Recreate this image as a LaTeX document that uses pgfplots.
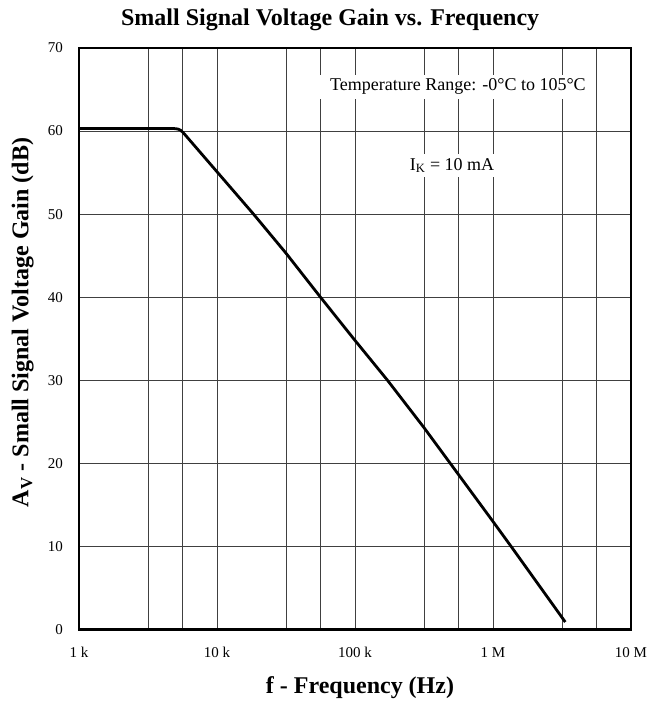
\documentclass[border=0pt]{standalone}
\usepackage{fontspec}
\setmainfont{Liberation Serif}
\usepackage{pgfplots}
\pgfplotsset{compat=1.18}
\begin{document}
\begin{tikzpicture}
\begin{axis}[
    xmode=log,
    scale only axis,
    width=552pt,
    height=581.5pt,
    xmin=1000, xmax=10000000,
    ymin=0, ymax=70,
    xtick={1000,10000,100000,1000000,10000000},
    xticklabels={1 k,10 k,100 k,1 M,10 M},
    minor xtick={3162.3,5623.4,31623,56234,316228,562341,3162278,5623413},
    ytick={0,10,...,70},
    xmajorgrids, xminorgrids, ymajorgrids,
    grid style={black!75, line width=0.8pt},
    minor grid style={black!75, line width=0.8pt},
    major tick length=0pt,
    minor tick length=0pt,
    axis line style={line width=2.7pt},
    /pgf/number format/assume math mode=true,
    tick label style={font=\fontsize{15}{15}\selectfont},
    xticklabel style={anchor=center, inner sep=0pt, yshift=-23pt},
    yticklabel style={anchor=east, inner sep=0pt, xshift=-16pt},
    title={Small Signal Voltage Gain vs. Frequency},
    title style={font=\bfseries\fontsize{24}{24}\selectfont,
        at={(axis description cs:0.455,1.028)}, anchor=base},
    xlabel={f - Frequency (Hz)},
    xlabel style={font=\bfseries\fontsize{24}{24}\selectfont,
        at={(axis description cs:0.509,-0.1092)}, anchor=base},
    ylabel={A\textsubscript{V} - Small Signal Voltage Gain (dB)},
    ylabel style={font=\bfseries\fontsize{24}{24}\selectfont,
        at={(axis description cs:-0.0915,0.528)}, anchor=base},
]
\addplot[black, line width=2.8pt] coordinates {
    (1000,60.3) (4900,60.3) (5200,60.25) (5450,60.1) (5700,59.8)
    (10000,55.1) (18400,50) (31623,45.3) (56234,40) (100000,34.8)
    (172000,30) (316228,24.3) (1000000,13.0) (1380000,9.8) (3340000,0.9)
};
\node[fill=white, inner xsep=10pt, inner ysep=4pt, anchor=base,
    font=\fontsize{18}{18}\selectfont] at (axis cs:557000,64.86)
    {Temperature Range: -0°C to 105°C};
\node[fill=white, inner xsep=3pt, inner ysep=4pt, anchor=base,
    font=\fontsize{18}{18}\selectfont] at (axis cs:505000,55.3)
    {I\textsubscript{K} = 10 mA};
\end{axis}
\path (current axis.south west) ++(-79pt,-72.5pt) rectangle ++(650pt,702pt);
\end{tikzpicture}
\end{document}
